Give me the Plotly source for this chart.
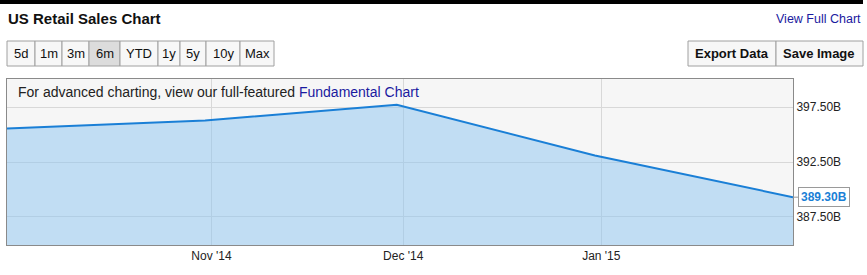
import plotly.graph_objects as go

# ---- data ----
dates = ["2014-09-30", "2014-10-31", "2014-11-30", "2014-12-31", "2015-01-31"]
sales_b = [395.55, 396.27, 397.71, 393.09, 389.30]
y_ticks = [387.5, 392.5, 397.5]
y_tick_labels = ["387.50B", "392.50B", "397.50B"]
x_ticks = ["2014-11-01", "2014-12-01", "2015-01-01"]
x_tick_labels = ["Nov '14", "Dec '14", "Jan '15"]
range_buttons = ["5d", "1m", "3m", "6m", "YTD", "1y", "5y", "10y", "Max"]
selected_button = "6m"
action_buttons = ["Export Data", "Save Image"]

W, H = 867, 275
L, R, T, B = 7, 793, 79, 245
FONT = "Arial, Liberation Sans, sans-serif"

def px(X):
    return (X - L) / (R - L)

def py(Y):
    return (B - Y) / (B - T)

fig = go.Figure()
fig.add_trace(go.Scatter(
    x=dates, y=sales_b, mode="lines",
    line=dict(color="#1a7fd6", width=2),
    fill="tozeroy", fillcolor="rgba(140,195,240,0.5)",
    hoverinfo="skip", showlegend=False,
))

shapes = []
annotations = []

# top black bar
shapes.append(dict(type="rect", xref="paper", yref="paper",
                   x0=px(0), x1=px(863), y0=py(4), y1=py(0),
                   fillcolor="black", line=dict(width=0), layer="above"))

# title
annotations.append(dict(text="<b>US Retail Sales Chart</b>", xref="paper", yref="paper",
                        x=px(6), y=py(18), xanchor="left", yanchor="middle",
                        showarrow=False, font=dict(family=FONT, size=15, color="#111")))
annotations.append(dict(text="View Full Chart", xref="paper", yref="paper",
                        x=px(863), y=py(19), xanchor="right", yanchor="middle",
                        showarrow=False, font=dict(family=FONT, size=12.5, color="#1a1aa0")))

# range buttons
edges = [7, 35, 62, 89, 120, 158, 180, 206, 240, 274]
for i, lab in enumerate(range_buttons):
    x0, x1 = edges[i], edges[i + 1]
    fill = "#dcdcdc" if lab == selected_button else "#f7f7f7"
    shapes.append(dict(type="rect", xref="paper", yref="paper",
                       x0=px(x0), x1=px(x1), y0=py(66), y1=py(41),
                       fillcolor=fill, line=dict(color="#a0a0a0", width=1)))
    annotations.append(dict(text=lab, xref="paper", yref="paper",
                            x=px((x0 + x1) / 2), y=py(53.5), xanchor="center", yanchor="middle",
                            showarrow=False, font=dict(family=FONT, size=13, color="#111")))

# action buttons
aedges = [688, 776, 863]
for i, lab in enumerate(action_buttons):
    x0, x1 = aedges[i], aedges[i + 1]
    shapes.append(dict(type="rect", xref="paper", yref="paper",
                       x0=px(x0), x1=px(x1), y0=py(66), y1=py(41),
                       fillcolor="#f7f7f7", line=dict(color="#a0a0a0", width=1)))
    annotations.append(dict(text="<b>" + lab + "</b>", xref="paper", yref="paper",
                            x=px((x0 + x1) / 2), y=py(53.5), xanchor="center", yanchor="middle",
                            showarrow=False, font=dict(family=FONT, size=13, color="#111")))

# in-chart header text
annotations.append(dict(
    text="For advanced charting, view our full-featured <span style='color:#1a1aa0'>Fundamental Chart</span>",
    xref="paper", yref="paper", x=px(16), y=py(92), xanchor="left", yanchor="middle",
    showarrow=False, font=dict(family=FONT, size=14, color="#222")))

# last value tag
annotations.append(dict(
    text="<b>%.2fB</b>" % sales_b[-1], x=dates[-1], y=sales_b[-1], xref="x", yref="y",
    showarrow=True, arrowhead=0, arrowwidth=1, arrowcolor="#9a9a9a",
    ax=5, ay=0, xanchor="left", yanchor="middle", standoff=0,
    bgcolor="white", bordercolor="#9a9a9a", borderwidth=1, borderpad=2,
    font=dict(family=FONT, size=12, color="#1a7fd6")))

fig.update_layout(
    width=W, height=H,
    margin=dict(l=L, r=W - R, t=T, b=H - B, pad=0),
    paper_bgcolor="white", plot_bgcolor="#f6f6f6",
    shapes=shapes, annotations=annotations,
    font=dict(family=FONT, size=12, color="#222"),
    xaxis=dict(type="date", range=["2014-09-30", "2015-01-31"],
               tickvals=x_ticks, ticktext=x_tick_labels,
               showgrid=True, gridcolor="#d8d8d8", gridwidth=1,
               showline=True, linecolor="#8a8a8a", linewidth=1, mirror=True,
               ticks="", zeroline=False, fixedrange=True,
               tickfont=dict(family=FONT, size=12, color="#222")),
    yaxis=dict(side="right", range=[384.95, 400.05],
               tickvals=y_ticks, ticktext=y_tick_labels,
               showgrid=True, gridcolor="#d8d8d8", gridwidth=1,
               showline=True, linecolor="#8a8a8a", linewidth=1, mirror=True,
               ticks="", zeroline=False, fixedrange=True,
               tickfont=dict(family=FONT, size=12, color="#222")),
)

fig.write_html("out.html", config={"displayModeBar": False})
